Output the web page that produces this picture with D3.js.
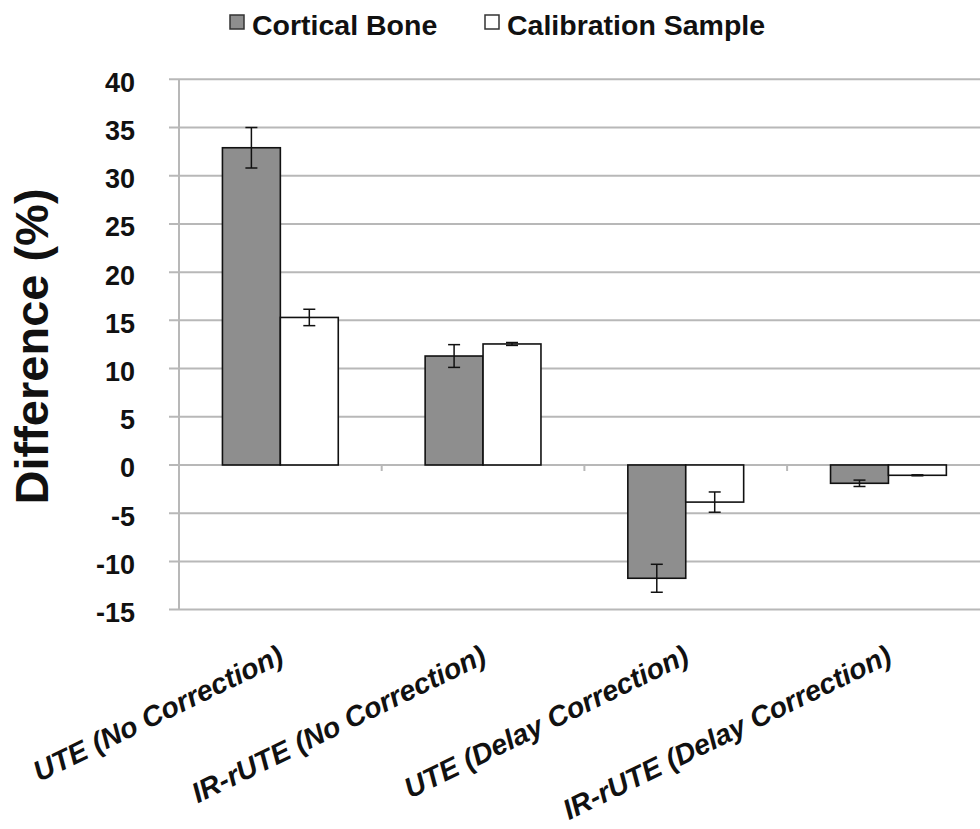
<!DOCTYPE html>
<html>
<head>
<meta charset="utf-8">
<script src="https://cdn.jsdelivr.net/npm/d3@7"></script>
<style>
  html, body { margin: 0; padding: 0; background: #fff; }
  svg { display: block; font-family: "Liberation Sans", Arial, Helvetica, sans-serif; }
</style>
</head>
<body>
<svg id="chart" width="980" height="829"></svg>
<script>
// Sequences compared, in display order
const categories = [
  "UTE (No Correction)",
  "IR-rUTE (No Correction)",
  "UTE (Delay Correction)",
  "IR-rUTE (Delay Correction)"
];
const seriesNames = ["Cortical Bone", "Calibration Sample"];

// Mean difference (%) and its error for each series
const corticalValues = [32.9, 11.3, -11.75, -1.9];
const corticalErrors = [2.1, 1.18, 1.45, 0.33];
const calibrationValues = [15.3, 12.55, -3.85, -1.07];
const calibrationErrors = [0.85, 0.15, 1.05, 0.05];

const yTicks = [-15, -10, -5, 0, 5, 10, 15, 20, 25, 30, 35, 40];

const series = [
  { name: seriesNames[0], values: corticalValues, errors: corticalErrors, fill: "#8e8e8e" },
  { name: seriesNames[1], values: calibrationValues, errors: calibrationErrors, fill: "#ffffff" }
];

const svg = d3.select("#chart");

const plot = { left: 179, top: 79.3, bottom: 609.6, band: 202.7 };
const plotRight = plot.left + plot.band * categories.length;

const y = d3.scaleLinear().domain([-15, 40]).range([plot.bottom, plot.top]);
const x = d3.scaleBand().domain(categories).range([plot.left, plotRight])
  .paddingInner(0).paddingOuter(0);
// Two bars per category with an Excel-style 150% gap
const barW = x.bandwidth() / 3.5;
const xs = d3.scaleBand().domain(seriesNames).range([0.75 * barW, 2.75 * barW]);

const gridColor = "#b8b8b8";

// Horizontal gridlines, extended left as tick marks
svg.append("g").selectAll("line").data(yTicks).join("line")
  .attr("x1", plot.left - 10).attr("x2", plotRight)
  .attr("y1", d => y(d)).attr("y2", d => y(d))
  .attr("stroke", gridColor).attr("stroke-width", 2);

// Vertical axis line
svg.append("line")
  .attr("x1", plot.left).attr("x2", plot.left)
  .attr("y1", y(40)).attr("y2", y(-15))
  .attr("stroke", gridColor).attr("stroke-width", 2);

// Category boundary ticks on the zero line
svg.append("g").selectAll("line").data(d3.range(1, categories.length + 1)).join("line")
  .attr("x1", i => plot.left + i * x.step()).attr("x2", i => plot.left + i * x.step())
  .attr("y1", y(0)).attr("y2", y(0) + 6)
  .attr("stroke", gridColor).attr("stroke-width", 2);

// Y tick labels
svg.append("g").selectAll("text").data(yTicks).join("text")
  .attr("x", 135).attr("y", d => y(d) + 3)
  .attr("dy", "0.35em")
  .attr("text-anchor", "end")
  .attr("font-size", 27).attr("font-weight", "bold").attr("fill", "#111")
  .text(d => d);

// Y axis title
svg.append("text")
  .attr("transform", `translate(48, ${(y(40) + y(-15)) / 2 + 2}) rotate(-90)`)
  .attr("text-anchor", "middle")
  .attr("font-size", 47).attr("font-weight", "bold").attr("fill", "#111")
  .text("Difference (%)");

// Bars
series.forEach(s => {
  const g = svg.append("g");
  g.selectAll("rect").data(categories).join("rect")
    .attr("x", c => x(c) + xs(s.name))
    .attr("width", xs.bandwidth())
    .attr("y", (c, i) => y(Math.max(0, s.values[i])))
    .attr("height", (c, i) => Math.abs(y(s.values[i]) - y(0)))
    .attr("fill", s.fill).attr("stroke", "#111").attr("stroke-width", 1.6);
});

// Error bars
series.forEach(s => {
  const g = svg.append("g").attr("stroke", "#111").attr("stroke-width", 1.5);
  categories.forEach((c, i) => {
    const cx = x(c) + xs(s.name) + xs.bandwidth() / 2;
    const hi = y(s.values[i] + s.errors[i]);
    const lo = y(s.values[i] - s.errors[i]);
    g.append("line").attr("x1", cx).attr("x2", cx).attr("y1", hi).attr("y2", lo);
    g.append("line").attr("x1", cx - 6).attr("x2", cx + 6).attr("y1", hi).attr("y2", hi);
    g.append("line").attr("x1", cx - 6).attr("x2", cx + 6).attr("y1", lo).attr("y2", lo);
  });
});

// Category labels, rotated
svg.append("g").selectAll("text").data(categories).join("text")
  .attr("transform", c => `translate(${x(c) + x.bandwidth() / 2 + 5}, 662) rotate(-26)`)
  .attr("text-anchor", "end")
  .attr("font-size", 28.5).attr("font-weight", "bold").attr("font-style", "italic")
  .attr("fill", "#111")
  .text(c => c);

// Legend
const legendX = [230, 485];
const legend = svg.append("g");
series.forEach((s, i) => {
  legend.append("rect")
    .attr("x", legendX[i]).attr("y", 15).attr("width", 14).attr("height", 14)
    .attr("fill", s.fill).attr("stroke", "#333").attr("stroke-width", 1.5);
  legend.append("text")
    .attr("x", legendX[i] + 22).attr("y", 35)
    .attr("font-size", 28.5).attr("font-weight", "bold").attr("fill", "#111")
    .text(s.name);
});
</script>
</body>
</html>
